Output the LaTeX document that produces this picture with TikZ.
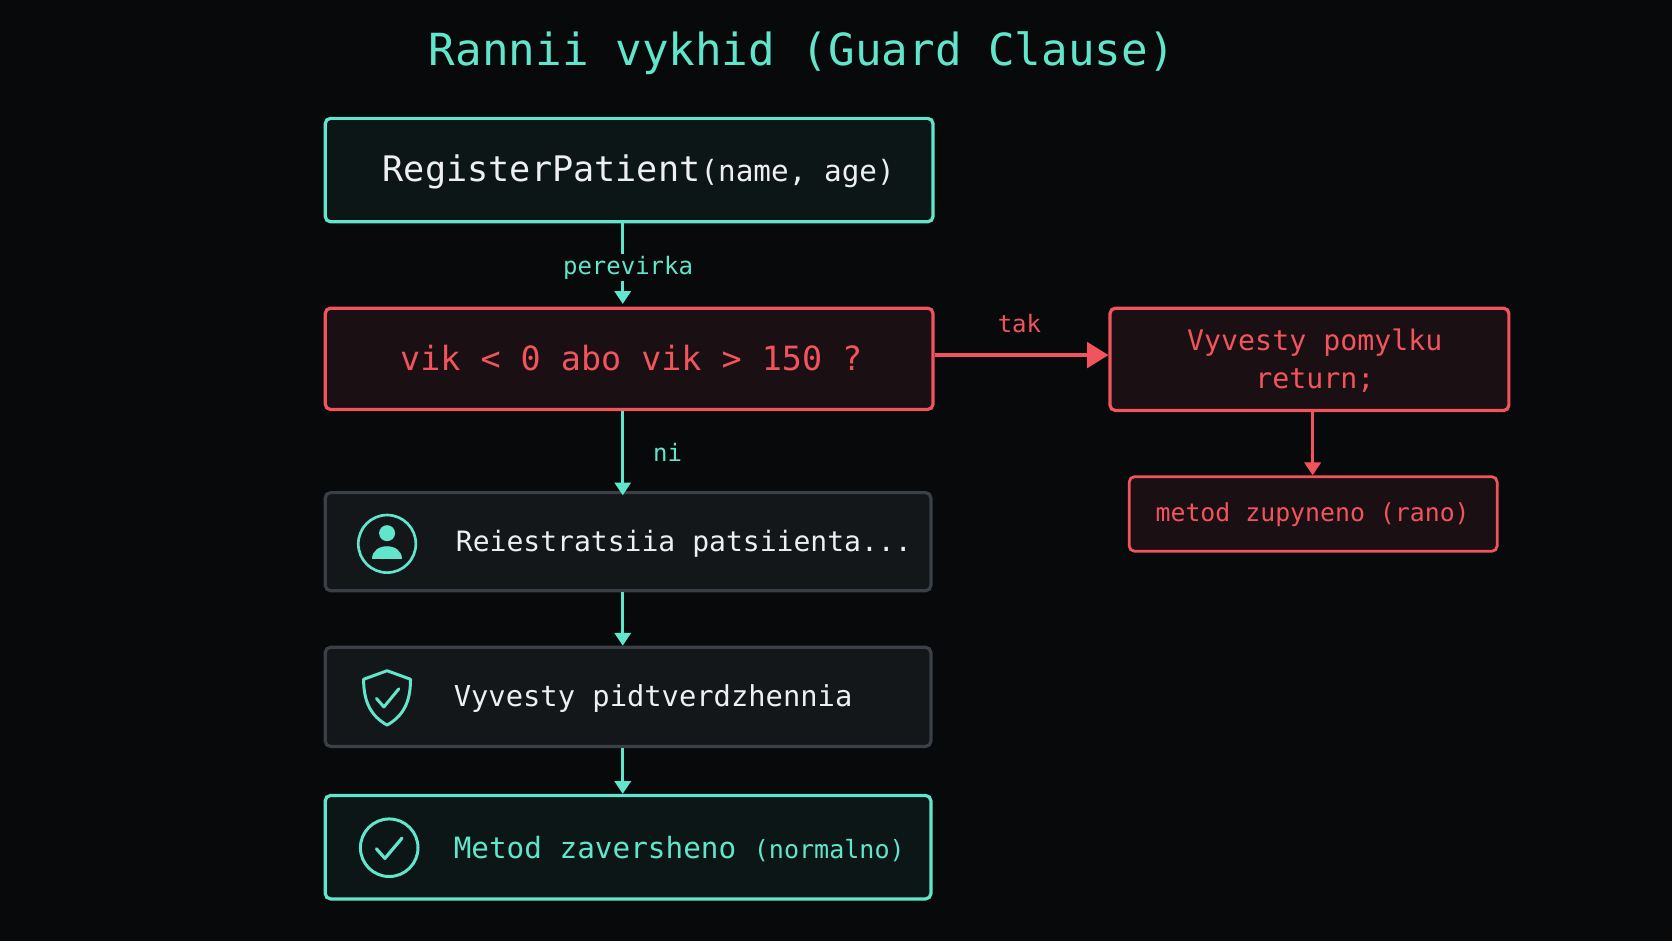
\documentclass[tikz,border=0pt]{standalone}
\usepackage{fontspec}
\setmonofont{DejaVu Sans Mono}
\usetikzlibrary{arrows.meta}
\definecolor{bg}{HTML}{07090B}
\definecolor{tl}{HTML}{62E6CB}
\definecolor{rd}{HTML}{F2545E}
\definecolor{gr}{HTML}{3A4046}
\definecolor{tx}{HTML}{EDEFF0}
\tikzset{
 box/.style={draw, line width=3pt, rounded corners=5pt, inner sep=0pt},
 tbox/.style={box, draw=tl, fill=tl!6!bg},
 rbox/.style={box, draw=rd, fill=rd!8!bg},
 gbox/.style={box, draw=gr, fill=gr!25!bg},
 arr/.style={line width=3pt, -{Triangle[length=12pt,width=15pt]}},
 lab/.style={font=\ttfamily\fontsize{22.5}{26}\selectfont}
}
\begin{document}
\begin{tikzpicture}[x=1pt,y=-1pt]
\fill[bg] (0,0) rectangle (1568,882);
\useasboundingbox (0,0) rectangle (1568,882);
\node[text=tl,font=\ttfamily\fontsize{41.5}{48}\selectfont] (title) at (752,50) {Rannii vykhid (Guard Clause)};
% boxes
\node[tbox, minimum width=570pt, minimum height=97pt] (b1) at (590,159.5) {};
\node[text=tx, font=\ttfamily\fontsize{33}{38}\selectfont] (t1) at (599,161) {RegisterPatient{\fontsize{27.5}{30}\selectfont(name, age)}};
\node[rbox, minimum width=570pt, minimum height=95pt] (b2) at (590,336.5) {};
\node[text=rd, font=\ttfamily\fontsize{31.3}{36}\selectfont] (t2) at (592,336) {vik < 0 abo vik > 150 ?};
\node[rbox, minimum width=374pt, minimum height=96pt] (r1) at (1228,337) {};
\node[text=rd, font=\ttfamily\fontsize{26.5}{36}\selectfont, align=center] (tr1) at (1233,338) {Vyvesty pomylku\\return;};
\node[rbox, minimum width=345pt, minimum height=70pt, line width=2.6pt] (r2) at (1231.5,482) {};
\node[text=rd, font=\ttfamily\fontsize{23.3}{26}\selectfont] (tr2) at (1231,483) {metod zupyneno (rano)};
\node[gbox, minimum width=568pt, minimum height=92pt] (b3) at (589,508) {};
\node[text=tx, font=\ttfamily\fontsize{26.3}{32}\selectfont, anchor=west] (t3) at (424,510) {Reiestratsiia patsiienta...};
\node[gbox, minimum width=568pt, minimum height=93pt] (b4) at (589,653.5) {};
\node[text=tx, font=\ttfamily\fontsize{27}{32}\selectfont, anchor=west] (t4) at (422,655) {Vyvesty pidtverdzhennia};
\node[tbox, minimum width=568pt, minimum height=97pt] (b5) at (589,794.5) {};
\node[text=tl, font=\ttfamily\fontsize{27.5}{32}\selectfont, anchor=west] (t5) at (422,796) {Metod zaversheno {\fontsize{23.5}{28}\selectfont(normalno)}};
% icons
\draw[tl, line width=2.5pt] (363,510) circle (27);
\fill[tl] (363,500) circle (7.5);
\fill[tl] (349,524) .. controls (349,508) and (377,508) .. (377,524) -- cycle;
\draw[tl, line width=2.8pt, line join=round] (363,629) -- (385,637) .. controls (385,660) and (377,672) .. (363,680) .. controls (349,672) and (341,660) .. (341,637) -- cycle;
\draw[tl, line width=2.8pt, line cap=round, line join=round] (353,655) -- (360,663) -- (374,646);
\draw[tl, line width=2.8pt] (365,795) circle (27);
\draw[tl, line width=3pt, line cap=round, line join=round] (353,796) -- (361,805) -- (377,786);
% connectors
\coordinate (c1) at (584,285);
\draw[tl, arr] (b1.south -| c1) -- (c1);
\node[lab, text=tl, fill=bg, inner sep=2pt] (l1) at (589,251) {perevirka};
\draw[tl, arr] (b2.south -| c1) -- ([yshift=-4pt]b3.north -| c1);
\node[lab, text=tl] (l2) at (626,424) {ni};
\draw[rd, arr, -{Triangle[length=20pt,width=24pt]}] (b2.east |- 0,333) -- (r1.west |- 0,333);
\node[lab, text=rd] (l3) at (956,303) {tak};
\draw[rd, arr] (r1.south -| 1231,0) -- (r2.north -| 1231,0);
\draw[tl, arr] (b3.south -| c1) -- (b4.north -| c1);
\draw[tl, arr] (b4.south -| c1) -- (b5.north -| c1);
\end{tikzpicture}
\end{document}
